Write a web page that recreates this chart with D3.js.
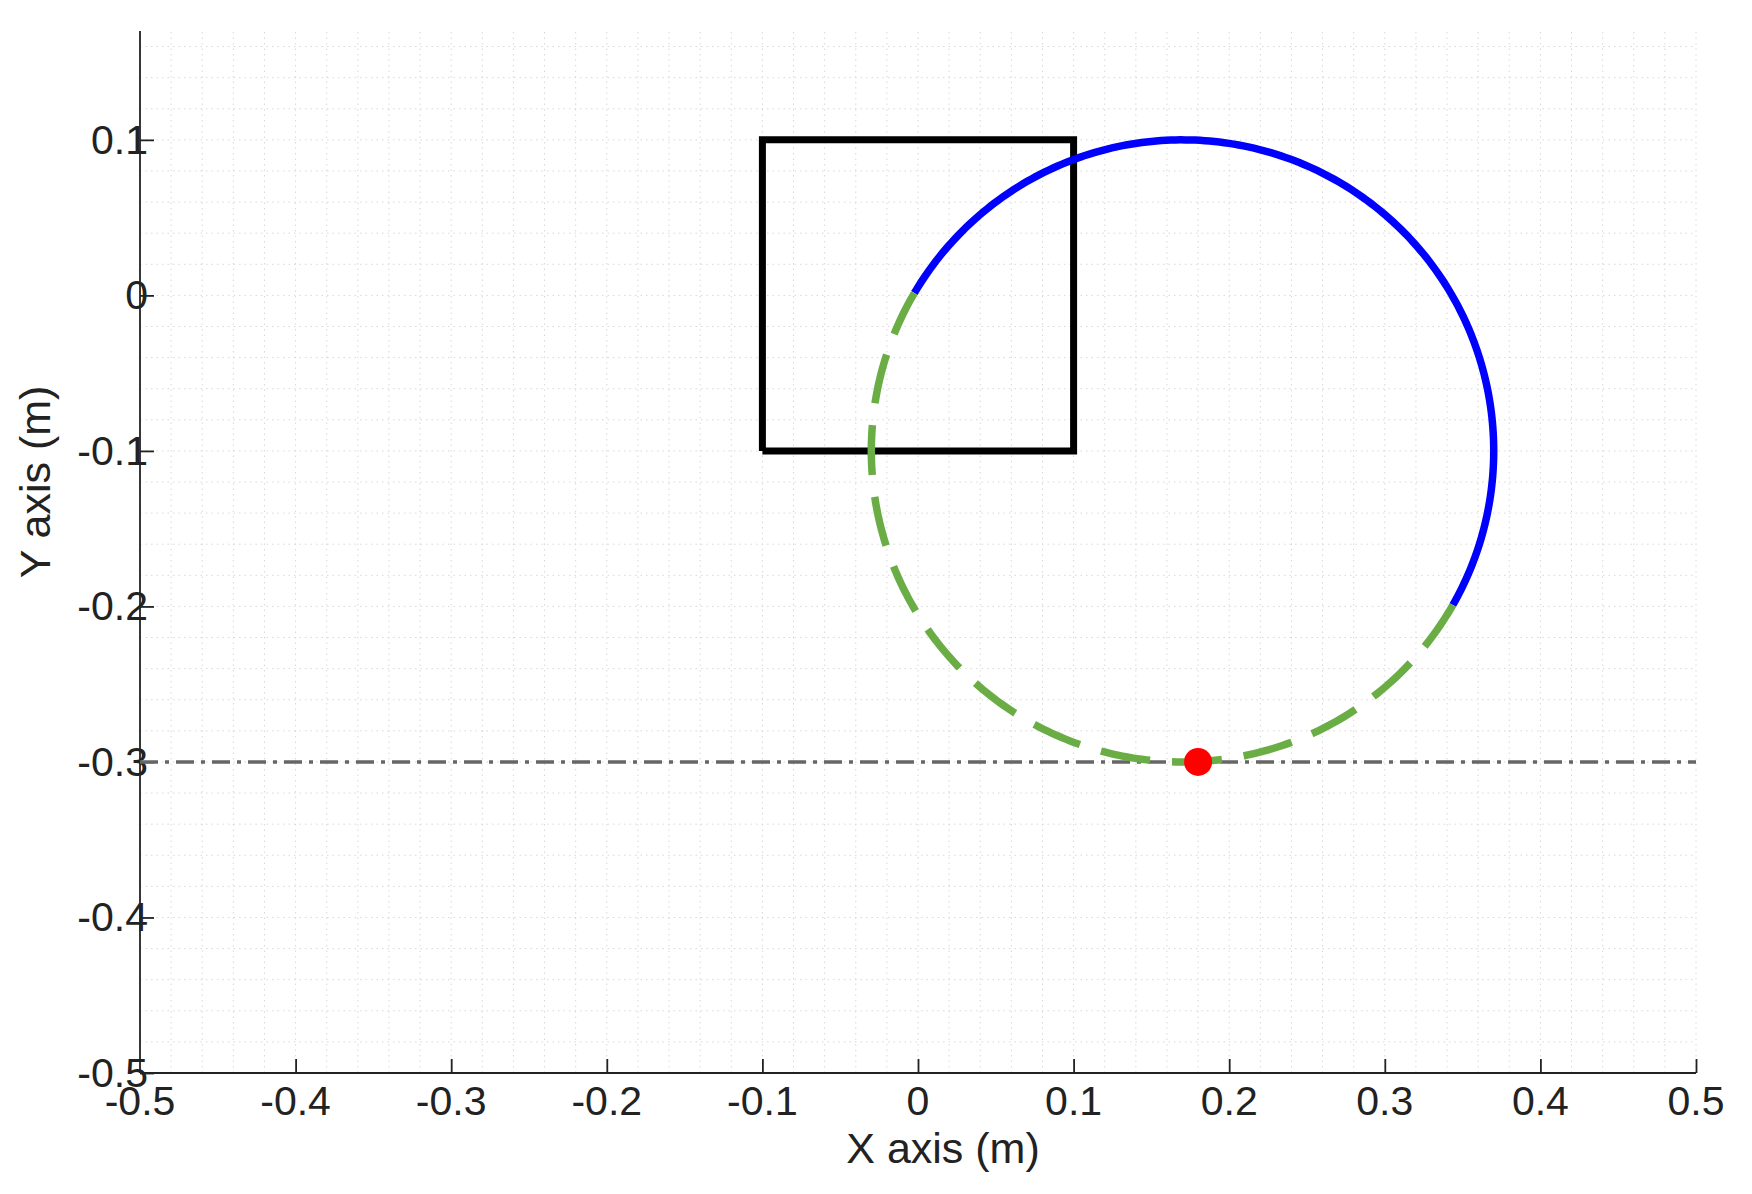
<!DOCTYPE html>
<html><head><meta charset="utf-8">
<script src="https://cdn.jsdelivr.net/npm/d3@7.9.0/dist/d3.min.js"></script>
<style>body{margin:0;background:#fff}text{font-family:"Liberation Sans",Arial,sans-serif;fill:#222}</style>
</head><body><svg width="1752" height="1194"></svg>
<script>
const xTicks = [-0.5,-0.4,-0.3,-0.2,-0.1,0,0.1,0.2,0.3,0.4,0.5];
const yTicks = [-0.5,-0.4,-0.3,-0.2,-0.1,0,0.1];
const square = [[-0.1,-0.1],[0.1,-0.1],[0.1,0.1],[-0.1,0.1],[-0.1,-0.1]];
const circleCenter = [0.17,-0.1], circleRadius = 0.2;
const blueArc = [149.5, -29.7];      // degrees, solid part (clockwise via top)
const greenArc = [-29.7, -210.5];    // dashed part
const redPoint = [0.18,-0.3];
const refLineY = -0.3;

const svg = d3.select('svg');
const x = d3.scaleLinear().domain([-0.5,0.5]).range([140,1696]);
const y = d3.scaleLinear().domain([-0.5,0.17]).range([1073,31]);

// grid
const g = svg.append('g');
d3.range(-0.5,0.5001,0.02).forEach(v=>{
  g.append('line').attr('x1',x(v)).attr('x2',x(v)).attr('y1',y(-0.5)).attr('y2',y(0.17))
   .attr('stroke','#d8d8d8').attr('stroke-dasharray','1.5,4');
});
d3.range(-0.5,0.1701,0.02).forEach(v=>{
  g.append('line').attr('y1',y(v)).attr('y2',y(v)).attr('x1',x(-0.5)).attr('x2',x(0.5))
   .attr('stroke','#d8d8d8').attr('stroke-dasharray','1.5,4');
});

// axes
const xa = svg.append('g').attr('transform',`translate(0,${y(-0.5)})`)
  .call(d3.axisTop(x).tickValues(xTicks).tickSize(14).tickFormat(d=>''));
const ya = svg.append('g').attr('transform',`translate(${x(-0.5)},0)`)
  .call(d3.axisRight(y).tickValues(yTicks).tickSize(14).tickFormat(d=>''));
[xa,ya].forEach(a=>{a.selectAll('line,path').attr('stroke','#222').attr('stroke-width',1.8);});
xa.select('.domain').attr('d',`M${x(-0.5)},0H${x(0.5)}`);
ya.select('.domain').attr('d',`M0,${y(-0.5)}V${y(0.17)}`);
xa.selectAll('.tick').filter(d=>d===-0.5).select('line').remove();

xTicks.forEach(v=>svg.append('text').attr('x',x(v)).attr('y',y(-0.5)+42).attr('text-anchor','middle')
  .attr('font-size',41).text(String(v)));
yTicks.forEach(v=>svg.append('text').attr('x',x(-0.5)+8).attr('y',y(v)+14).attr('text-anchor','end')
  .attr('font-size',41).text(String(v)));
svg.append('text').attr('x',943).attr('y',1163).attr('text-anchor','middle')
  .attr('font-size',43).text('X axis (m)');
svg.append('text').attr('transform',`translate(50,${y(-0.12)}) rotate(-90)`)
  .attr('text-anchor','middle').attr('font-size',43).text('Y axis (m)');

// reference line
svg.append('line').attr('x1',x(-0.5)).attr('x2',x(0.5)).attr('y1',y(refLineY)).attr('y2',y(refLineY))
  .attr('stroke','#666').attr('stroke-width',3.5).attr('stroke-dasharray','18,7,4,7');

// square
const line = d3.line().x(d=>x(d[0])).y(d=>y(d[1]));
svg.append('path').attr('d',line(square)).attr('fill','none').attr('stroke','#000').attr('stroke-width',7)
  .attr('stroke-linejoin','miter');

function arcPts(a0,a1){
  const n=200;
  return d3.range(n+1).map(i=>{const a=(a0+(a1-a0)*i/n)*Math.PI/180;
    return [circleCenter[0]+circleRadius*Math.cos(a), circleCenter[1]+circleRadius*Math.sin(a)];});
}
svg.append('path').attr('d',line(arcPts(...blueArc))).attr('fill','none').attr('stroke','#0000ff').attr('stroke-width',7.5);
svg.append('path').attr('d',line(arcPts(...greenArc))).attr('fill','none').attr('stroke','#6aad45')
  .attr('stroke-width',7.5).attr('stroke-dasharray','50,22');

svg.append('circle').attr('cx',x(redPoint[0])).attr('cy',y(redPoint[1])).attr('r',14).attr('fill','#ff0000');
</script></body></html>
